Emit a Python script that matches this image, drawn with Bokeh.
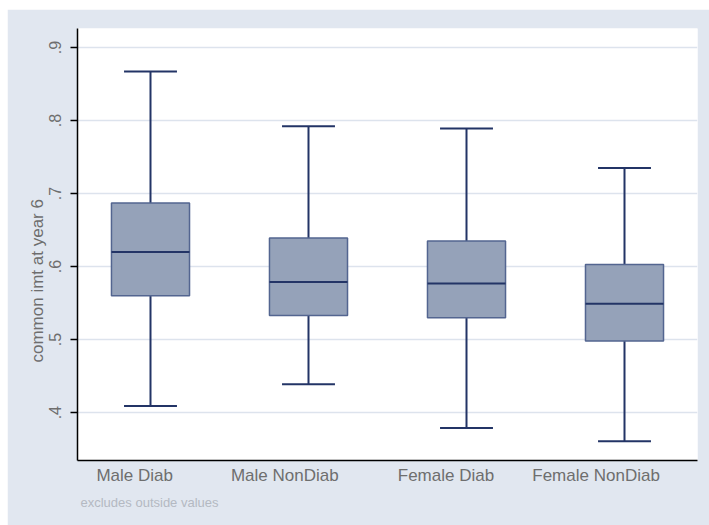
from bokeh.plotting import figure
from bokeh.models import Range1d, FixedTicker, Title, ColumnDataSource
from bokeh.embed import file_html
from bokeh.resources import INLINE

# ---- data ----
groups = ["Male Diab", "Male NonDiab", "Female Diab", "Female NonDiab"]
positions = [1, 2, 3, 4]
upper_whisker = [0.867, 0.792, 0.789, 0.735]
q3 = [0.687, 0.639, 0.635, 0.603]
median = [0.620, 0.579, 0.577, 0.549]
q1 = [0.560, 0.533, 0.530, 0.498]
lower_whisker = [0.409, 0.439, 0.379, 0.361]

y_ticks = [0.4, 0.5, 0.6, 0.7, 0.8, 0.9]
y_tick_labels = [".4", ".5", ".6", ".7", ".8", ".9"]
# Stata places the group labels slightly left of the box centres
label_positions = [0.90, 1.85, 2.87, 3.82]

y_title = "common imt at year 6"
note = "excludes outside values"

# ---- styling ----
BG = "#e1e7f0"
BOX_FILL = "#95a2b9"
BOX_LINE = "#536590"
DARK = "#233466"
TEXT = "#6e6e6e"
FONT = "Liberation Sans"
box_w = 0.494
cap_w = 0.335

p = figure(width=702, height=516, output_backend="svg", toolbar_location=None,
           x_range=Range1d(0.538, 4.462), y_range=Range1d(0.3345, 0.926),
           min_border_left=70, min_border_right=12, min_border_top=19,
           min_border_bottom=65)
p.margin = (9, 0, 0, 7)
p.background_fill_color = "white"
p.border_fill_color = BG
p.outline_line_color = None

src = ColumnDataSource(dict(
    x=positions, up=upper_whisker, q3=q3, med=median, q1=q1, lo=lower_whisker,
    cx0=[x - cap_w / 2 for x in positions], cx1=[x + cap_w / 2 for x in positions],
    bx0=[x - box_w / 2 for x in positions], bx1=[x + box_w / 2 for x in positions],
))

# whiskers
p.segment(x0="x", y0="q3", x1="x", y1="up", source=src, line_color=DARK, line_width=2)
p.segment(x0="x", y0="q1", x1="x", y1="lo", source=src, line_color=DARK, line_width=2)
p.segment(x0="cx0", y0="up", x1="cx1", y1="up", source=src, line_color=DARK, line_width=2)
p.segment(x0="cx0", y0="lo", x1="cx1", y1="lo", source=src, line_color=DARK, line_width=2)
# boxes
p.vbar(x="x", width=box_w, top="q3", bottom="q1", source=src,
       fill_color=BOX_FILL, line_color=BOX_LINE, line_width=1.5)
# medians
p.segment(x0="bx0", y0="med", x1="bx1", y1="med", source=src, line_color=DARK, line_width=2)

# grid
p.xgrid.grid_line_color = None
p.ygrid.ticker = FixedTicker(ticks=y_ticks)
p.ygrid.grid_line_color = "#dde3ed"
p.ygrid.grid_line_width = 1.5

# y axis
ya = p.yaxis[0]
ya.ticker = FixedTicker(ticks=y_ticks)
ya.major_label_overrides = {t: l for t, l in zip(y_ticks, y_tick_labels)}
ya.major_label_orientation = "vertical"
ya.major_tick_out = 7
ya.major_tick_in = 0
ya.minor_tick_line_color = None
ya.axis_line_color = "black"
ya.axis_line_width = 1.5
ya.major_tick_line_color = "black"
ya.major_tick_line_width = 1.5
ya.major_label_text_font = FONT
ya.major_label_text_font_size = "16px"
ya.major_label_text_color = TEXT
ya.major_label_standoff = 9

# x axis
xa = p.xaxis[0]
xa.ticker = FixedTicker(ticks=label_positions)
xa.major_label_overrides = {t: g for t, g in zip(label_positions, groups)}
xa.major_tick_out = 0
xa.major_tick_in = 0
xa.major_tick_line_color = None
xa.minor_tick_line_color = None
xa.axis_line_color = "black"
xa.axis_line_width = 1.5
xa.major_label_text_font = FONT
xa.major_label_text_font_size = "17px"
xa.major_label_text_color = TEXT
xa.major_label_standoff = 5

# y title (left panel, anchored near the bottom like Stata's)
p.add_layout(Title(text=y_title, align="left", offset=98, standoff=0,
                   text_font=FONT, text_font_size="17px", text_font_style="normal",
                   text_color=TEXT), "left")

# note
p.add_layout(Title(text=note, align="left", offset=3, text_font=FONT,
                   text_font_size="13px", text_font_style="normal",
                   text_color="#b4b9c2"), "below")

open("out.html", "w").write(file_html(p, INLINE))
